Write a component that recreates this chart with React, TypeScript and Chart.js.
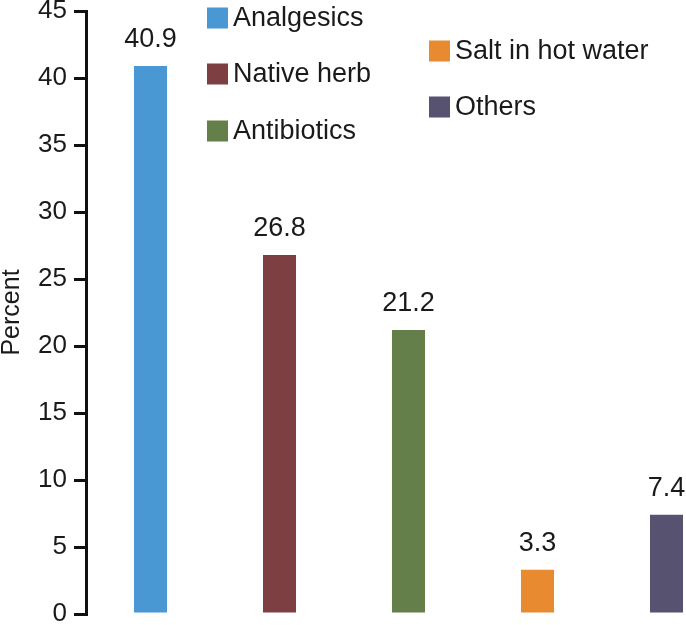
import React, { useEffect, useRef } from "react";
import { Chart, registerables } from "chart.js";

Chart.register(...registerables);

// ---- data ----
const categories = ["Analgesics", "Native herb", "Antibiotics", "Salt in hot water", "Others"];
const values = [40.9, 26.8, 21.2, 3.3, 7.4];
const barColors = ["#4A98D3", "#7D3F42", "#647F49", "#E88A30", "#57526F"];
const yMin = 0;
const yMax = 45;
const yStep = 5;
const yTitle = "Percent";

// ---- layout (legend placement, px in canvas) ----
const legendSlots = [
  { x: 207, y: 18 },
  { x: 207, y: 74 },
  { x: 207, y: 131 },
  { x: 429, y: 51 },
  { x: 429, y: 107 },
];

const FONT = "'Liberation Sans', Arial, Helvetica, sans-serif";
const TEXT = "#1a1a1a";
const AXIS = "#111111";

const valueLabelPlugin = {
  id: "valueLabels",
  afterDatasetsDraw(chart: any) {
    const ctx = chart.ctx;
    const meta = chart.getDatasetMeta(0);
    ctx.save();
    ctx.font = `27px ${FONT}`;
    ctx.fillStyle = TEXT;
    ctx.textAlign = "center";
    ctx.textBaseline = "alphabetic";
    meta.data.forEach((bar: any, i: number) => {
      ctx.fillText(String(values[i].toFixed(1)), bar.x, bar.y - 19);
    });
    ctx.restore();
  },
};

const scatteredLegendPlugin = {
  id: "scatteredLegend",
  afterDraw(chart: any) {
    const ctx = chart.ctx;
    const size = 21;
    ctx.save();
    ctx.font = `27px ${FONT}`;
    ctx.textAlign = "left";
    ctx.textBaseline = "middle";
    categories.forEach((label, i) => {
      const slot = legendSlots[i];
      ctx.fillStyle = barColors[i];
      ctx.fillRect(slot.x, slot.y - size / 2, size, size);
      ctx.fillStyle = TEXT;
      ctx.fillText(label, slot.x + size + 5, slot.y + 1);
    });
    ctx.restore();
  },
};

export default function App() {
  const canvasRef = useRef<HTMLCanvasElement | null>(null);

  useEffect(() => {
    if (!canvasRef.current) return;
    const chart = new Chart(canvasRef.current, {
      type: "bar",
      data: {
        labels: categories,
        datasets: [
          {
            data: values,
            backgroundColor: barColors,
            borderWidth: 0,
            categoryPercentage: 1,
            barPercentage: 0.256,
          },
        ],
      },
      options: {
        responsive: false,
        animation: false,
        events: [],
        layout: { padding: { top: 11, bottom: 11, left: 0, right: 9 } },
        plugins: {
          legend: { display: false },
          tooltip: { enabled: false },
        },
        scales: {
          x: { display: false },
          y: {
            min: yMin,
            max: yMax,
            ticks: {
              stepSize: yStep,
              font: { family: FONT, size: 26 },
              color: TEXT,
              padding: 7,
            },
            grid: {
              display: true,
              drawOnChartArea: false,
              drawTicks: true,
              tickLength: 12,
              lineWidth: 3,
              color: AXIS,
            },
            border: { display: true, width: 3, color: AXIS },
            title: {
              display: true,
              text: yTitle,
              font: { family: FONT, size: 25, lineHeight: 1 },
              color: TEXT,
              padding: { top: 0, bottom: 0 },
            },
            afterFit: (scale: any) => {
              scale.width = 86;
              scale.paddingTop = 0;
              scale.paddingBottom = 0;
            },
          },
        },
      },
      plugins: [valueLabelPlugin, scatteredLegendPlugin],
    });
    return () => chart.destroy();
  }, []);

  return (
    <div style={{ position: "fixed", left: 0, top: 0, width: 740, height: 625, background: "#ffffff" }}>
      <canvas ref={canvasRef} width={740} height={625} style={{ display: "block" }} />
    </div>
  );
}
